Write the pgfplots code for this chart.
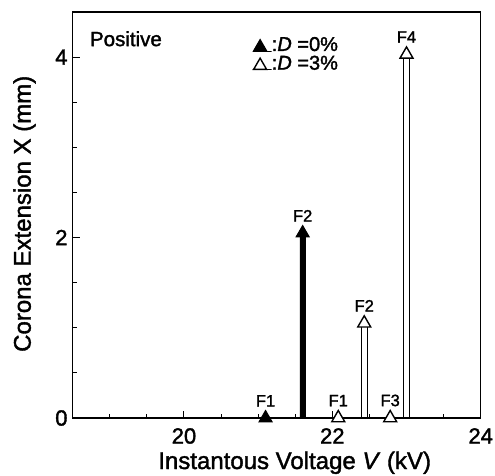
\documentclass[border=0pt]{standalone}
\usepackage{pgfplots}
\usepackage{pgfplotstable}
\pgfplotsset{compat=1.18}
\usepackage{fontspec}
\setmainfont{Liberation Sans}[FakeBold=1.6]

% corona extension at each onset voltage (F = corona form)
\pgfplotstableread{
x     y     lab
21.10 0.00  F1
21.60 2.05  F2
}\dzero
\pgfplotstableread{
x     y     lab
22.08 0.00  F1
22.43 1.05  F2
22.78 0.00  F3
23.00 4.03  F4
}\dthree

\begin{document}
\begin{tikzpicture}
\begin{axis}[
  scale only axis, width=408pt, height=406pt,
  xmin=18.5, xmax=24, ymin=0, ymax=4.5,
  xtick={20,22,24}, ytick={0,2,4},
  minor xtick={18.5,19,...,24}, minor ytick={0.5,1,...,4.5},
  xtick pos=left, ytick pos=left,
  tick align=inside,
  major tick length=7pt, minor tick length=4pt,
  axis line style={line width=1.2pt},
  every tick/.style={black, line width=1pt},
  /pgf/number format/assume math mode=true,
  ticklabel style={font=\fontsize{22}{22}\selectfont, inner sep=0pt},
  xticklabel shift=10pt, yticklabel shift=5pt,
  clip=false,
  xlabel={Instantous Voltage \textit{V} (kV)},
  ylabel={Corona Extension X (mm)},
  label style={font=\fontsize{24}{24}\selectfont, inner sep=0pt},
  xlabel style={at={([yshift=-51pt]rel axis cs:0.544,0)}, anchor=base},
  ylabel style={at={([xshift=-42pt]rel axis cs:0,0.503)}, anchor=base},
  legend style={draw=none, fill=none, inner sep=0pt,
    at={(rel axis cs:0.44,0.939)}, anchor=north west,
    font=\fontsize{20}{20}\selectfont,
    row sep=4.5pt, column sep=0pt,
    nodes={inner sep=0pt, anchor=base west, text height=14pt, text depth=0pt}},
  legend cell align=left,
  legend image code/.code={%
    \path (0pt,0pt) rectangle (19pt,0pt);
    \draw[#1] plot coordinates {(7.5pt,4pt)};},
  nodes near coords style={font=\fontsize{16.5}{16.5}\selectfont,
    anchor=south, inner sep=0pt, yshift=11pt},
]
% legend entries
\addlegendimage{black, only marks, mark=triangle*, mark size=7.5pt,
  mark options={fill=black, line width=1pt}}
\addlegendentry{:\textit{D} =0\%}
\addlegendimage{black, only marks, mark=triangle*, mark size=7.5pt,
  mark options={fill=white, line width=1.4pt}}
\addlegendentry{:\textit{D} =3\%}

% D = 0 %
\addplot[ybar, bar width=5.5pt, bar shift=0pt, draw=black, fill=black,
  line width=0.6pt, forget plot] table[x=x, y=y] {\dzero};
\addplot[only marks, mark=triangle*, mark size=7.5pt,
  mark options={draw=black, fill=black, line width=1pt},
  nodes near coords, point meta=explicit symbolic, forget plot]
  table[x=x, y=y, meta=lab] {\dzero};

% D = 3 %
\addplot[ybar, bar width=6pt, bar shift=0pt, draw=black, fill=white,
  line width=1.4pt, forget plot] table[x=x, y=y] {\dthree};
\addplot[only marks, mark=triangle*, mark size=7.5pt,
  mark options={draw=black, fill=white, line width=1.4pt},
  nodes near coords, point meta=explicit symbolic, forget plot]
  table[x=x, y=y, meta=lab] {\dthree};

\node[anchor=base west, inner sep=0pt, font=\fontsize{20.5}{20.5}\selectfont]
  at (rel axis cs:0.042,0.916) {Positive};
\end{axis}
\pgfresetboundingbox
\path[use as bounding box] (-72.7pt,-57pt) rectangle (422.3pt,418pt);
\end{tikzpicture}
\end{document}
